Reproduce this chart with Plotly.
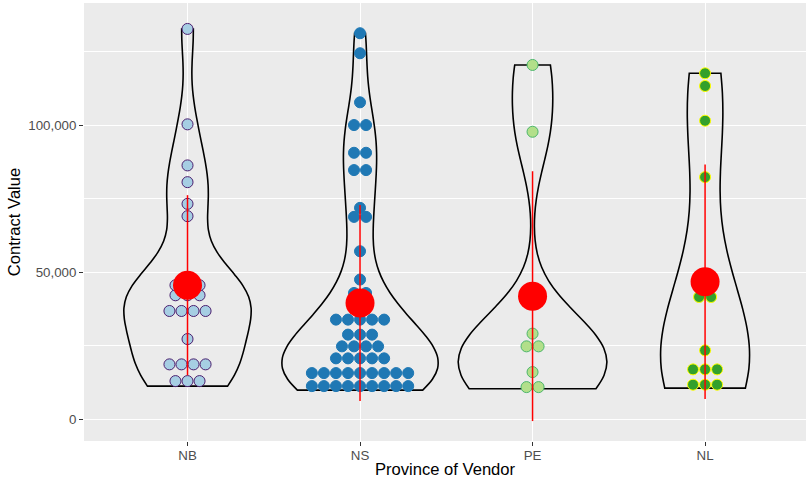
import numpy as np
import plotly.graph_objects as go

# ---------------- data ----------------
provinces = ["NB", "NS", "PE", "NL"]

nb_values = [11330, 13030, 14730, 17000, 18200, 19200, 20420, 27310,
             35500, 36500, 37500, 38180, 40500, 42180, 43860,
             44700, 45580, 46460, 69050, 73230, 80600, 86290, 100240, 132650]
ns_values = [9970, 10300, 10700, 11100, 11330, 11600, 12000, 12400, 12690,
             14500, 15000, 15400, 15700, 15750, 16000, 16400, 16800, 17000,
             19000, 20000, 20750, 21500, 22500,
             23200, 24300, 25400, 26460,
             27400, 28800, 30220,
             32000, 33000, 34000, 35000, 35820,
             42000, 43920, 47520, 57140,
             67700, 69920, 71870,
             84000, 85400, 90000, 91160, 99500, 100500,
             107720, 124390, 131190]
pe_values = [10440, 11540, 16090, 24000, 25660, 29150, 97720, 120410]
nl_values = [10650, 11800, 12950, 15500, 17010, 18520, 23470,
             41000, 42200, 46700, 82310, 101470, 113270, 117580]

dot_fill = ["#A6CEE3", "#1F78B4", "#B2DF8A", "#33A02C"]
dot_line = ["#4B1F6F", "#1F78B4", "#4CB66C", "#FFFF00"]

groups = [nb_values, ns_values, pe_values, nl_values]

# ---------------- layout geometry ----------------
W, H = 806, 479
ML, MR, MT, MB = 84, 0, 3, 38
x_range = [-0.6, 3.585]

allv = np.concatenate([np.array(g, float) for g in groups])
binwidth = (allv.max() - allv.min()) / 30.0

means = [float(np.mean(g)) for g in groups]
sds = [float(np.std(g, ddof=1)) for g in groups]

lo = min(min(m - s for m, s in zip(means, sds)), allv.min())
hi = allv.max() + binwidth / 2
pad = 0.05 * (hi - lo)
y_range = [lo - pad, hi + pad]

plot_w = W - ML - MR
plot_h = H - MT - MB
px_per_y = plot_h / (y_range[1] - y_range[0])
px_per_x = plot_w / (x_range[1] - x_range[0])
dot_px = binwidth * px_per_y
dot_x = dot_px / px_per_x


def densitybin(vals, bw):
    vals = sorted(vals)
    bins = []
    binend = -np.inf
    for v in vals:
        if v >= binend:
            bins.append([v])
            binend = v + bw
        else:
            bins[-1].append(v)
    return [((b[0] + b[-1]) / 2.0, len(b)) for b in bins]


def nrd0(v):
    v = np.asarray(v, float)
    sd = np.std(v, ddof=1)
    iqr = np.subtract(*np.percentile(v, [75, 25]))
    lo_ = min(sd, iqr / 1.34)
    return 0.9 * lo_ * len(v) ** (-0.2)


fig = go.Figure()

# violins (equal-area scaling through a shared scale group)
for i, g in enumerate(groups):
    fig.add_trace(go.Violin(
        y=g, x0=i, name=provinces[i],
        bandwidth=nrd0(g), spanmode="hard",
        scalegroup="all", scalemode="width",
        line=dict(color="black", width=1.6),
        fillcolor="rgba(0,0,0,0)", points=False,
        box_visible=False, meanline_visible=False,
        hoverinfo="skip", showlegend=False,
    ))

# dots
for i, g in enumerate(groups):
    xs, ys = [], []
    for center, n in densitybin(g, binwidth):
        for k in range(n):
            xs.append(i + (k - (n - 1) / 2.0) * dot_x)
            ys.append(center)
    fig.add_trace(go.Scatter(
        x=xs, y=ys, mode="markers",
        marker=dict(size=dot_px - 1, color=dot_fill[i],
                    line=dict(color=dot_line[i], width=1)),
        showlegend=False, hoverinfo="y",
    ))

# mean +/- sd
fig.add_trace(go.Scatter(
    x=list(range(len(provinces))), y=means, mode="markers",
    marker=dict(size=29, color="#FF0000"),
    error_y=dict(type="data", array=sds, visible=True, color="#FF0000",
                 thickness=1.5, width=0),
    showlegend=False, hoverinfo="y",
))

fig.update_layout(
    width=W, height=H,
    margin=dict(l=ML, r=MR, t=MT, b=MB, autoexpand=False),
    paper_bgcolor="white", plot_bgcolor="#EBEBEB",
    violinmode="overlay", violingap=0.1, violingroupgap=0,
    font=dict(family="Liberation Sans, Arial, sans-serif", color="#4D4D4D", size=13.3),
    xaxis=dict(
        range=x_range, tickmode="array", tickvals=list(range(len(provinces))),
        ticktext=provinces, showgrid=True, gridcolor="white", gridwidth=1.1,
        zeroline=False, ticks="outside", ticklen=4, tickcolor="#333333", tickwidth=1,
        tickfont=dict(size=13.3, color="#4D4D4D"), automargin=False,
        ticklabelstandoff=-2,
        title=dict(text="Province of Vendor", font=dict(size=16.6, color="black"), standoff=7),
        showline=False, fixedrange=True,
    ),
    yaxis=dict(
        range=y_range, tick0=0, dtick=50000, tickformat=",d",
        showgrid=True, gridcolor="white", gridwidth=1.1,
        minor=dict(dtick=25000, tick0=0, showgrid=True, gridcolor="white", gridwidth=0.55),
        zeroline=False, ticks="outside", ticklen=4, tickcolor="#333333", tickwidth=1,
        tickfont=dict(size=13.3, color="#4D4D4D"), automargin=False,
        title=dict(text="Contract Value", font=dict(size=16.6, color="black"), standoff=3),
        showline=False, fixedrange=True,
    ),
)

fig.write_html("out.html")
